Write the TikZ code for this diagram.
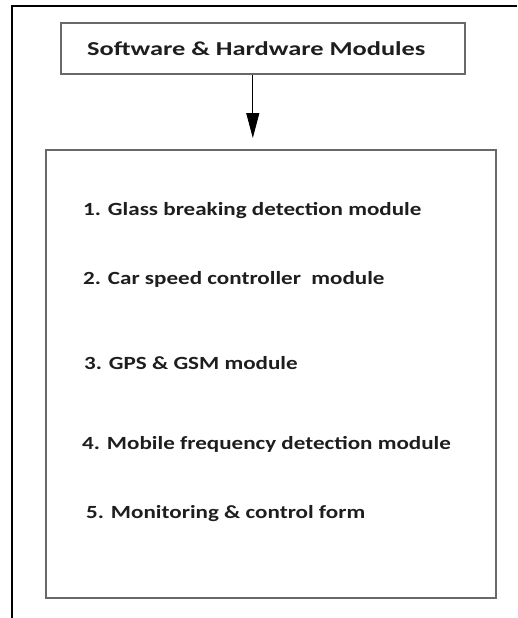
\documentclass[tikz,border=0pt]{standalone}
\usepackage{fontspec}
\setmainfont{Carlito}
\usetikzlibrary{arrows.meta}
\definecolor{boxgray}{RGB}{105,105,105}
\definecolor{textdark}{RGB}{30,30,30}
\newcommand{\itemtext}[1]{\scalebox{1.24}[1]{#1}}
\newcommand{\titletext}[1]{\scalebox{1.34}[1]{#1}}
\begin{document}
\begin{tikzpicture}[x=1pt,y=-1pt,
  modbox/.style={draw=boxgray, line width=1.6pt, rectangle, inner sep=0pt},
  txt/.style={font=\fontsize{18.6}{20}\selectfont\bfseries, text=textdark},
  ttl/.style={font=\fontsize{19.7}{21}\selectfont\bfseries, text=textdark},
  item/.style={txt, anchor=base west, inner sep=0pt},
  flow/.style={line width=1pt, -{Triangle[length=25pt,width=13pt]}, shorten >=11pt},
]
\useasboundingbox (0,0) rectangle (517,618);
\fill[white] (0,0) rectangle (517,618);
% outer frame (top and left edges only)
\draw[line width=2pt] (12,618) -- (12,6.5) -- (517,6.5);
% title box
\node[modbox, ttl, minimum width=404pt, minimum height=51pt, anchor=north west] (top) at (60,22) {\titletext{Software \& Hardware Modules}\hspace*{13pt}};
% module list box
\node[modbox, minimum width=450pt, minimum height=448pt, anchor=north west] (mods) at (45,149) {};
% connector
\draw[flow] ([xshift=-10pt]top.south) -- ([xshift=-10pt]top.south |- mods.north);
% items
\node[item] (m1) at (83,215) {\itemtext{1. Glass breaking detection module}};
\node[item] (m2) at (83,284) {\itemtext{2. Car speed controller\ \ module}};
\node[item] (m3) at (84,369) {\itemtext{3. GPS \& GSM module}};
\node[item] (m4) at (82,449) {\itemtext{4. Mobile frequency detection module}};
\node[item] (m5) at (86,518) {\itemtext{5. Monitoring \& control form}};
\end{tikzpicture}
\end{document}
